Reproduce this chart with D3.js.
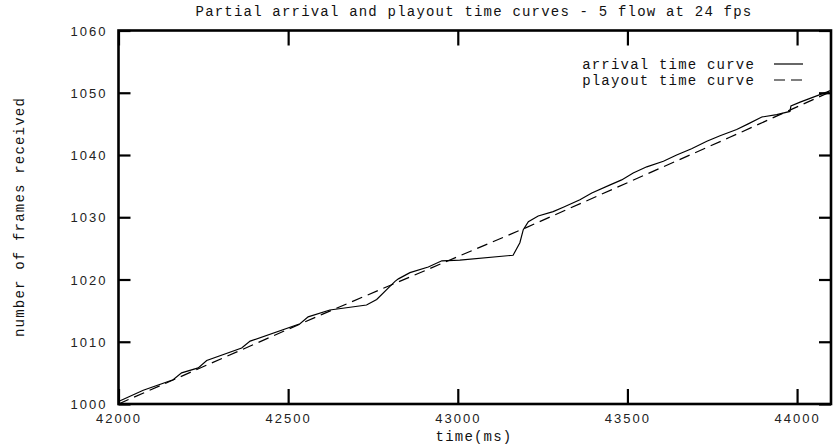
<!DOCTYPE html>
<html>
<head>
<meta charset="utf-8">
<script src="https://cdn.jsdelivr.net/npm/d3@7"></script>
<style>
  body { margin: 0; background: #fff; }
  .mono { font-family: "Liberation Mono", "DejaVu Sans Mono", monospace; font-size: 14px; letter-spacing: 1.2px; fill: #111; }
  .tick text { font-family: "Liberation Sans", Arial, sans-serif; font-size: 13px; letter-spacing: 2px; fill: #222; }
</style>
</head>
<body>
<div class="grafico"></div>
<script>
// curva de llegada (time ms, frames)
var arrivalTime = [42000, 42073, 42161, 42186, 42235, 42260, 42363, 42388, 42535, 42559, 42623, 42731, 42761, 42800, 42815, 42825, 42859, 42913, 42953, 43006, 43163, 43183, 43193, 43208, 43237, 43281, 43311, 43360, 43395, 43449, 43483, 43517, 43557, 43606, 43645, 43689, 43734, 43773, 43822, 43856, 43896, 43940, 43979, 43982, 44009, 44048, 44087, 44100];
var arrivalFrames = [1000.4, 1002.2, 1003.9, 1005.0, 1005.8, 1007.0, 1009.0, 1010.1, 1012.9, 1014.0, 1015.1, 1015.9, 1016.8, 1018.9, 1019.7, 1020.1, 1021.1, 1022.0, 1023.0, 1023.1, 1023.9, 1025.9, 1028.0, 1029.3, 1030.2, 1030.9, 1031.6, 1032.8, 1033.9, 1035.2, 1036.0, 1037.1, 1038.1, 1039.0, 1040.0, 1041.0, 1042.2, 1043.1, 1044.1, 1045.0, 1046.1, 1046.5, 1047.0, 1047.9, 1048.5, 1049.3, 1050.1, 1050.4];

// curva de reproduccion
var playoutTime = [42000, 42600, 43200, 43800, 44100];
var playoutFrames = [1000, 1014.4, 1028.3, 1042.8, 1050.2];

var xTicks = [42000, 42500, 43000, 43500, 44000];
var yTicks = [1000, 1010, 1020, 1030, 1040, 1050, 1060];

var titulo = "Partial arrival and playout time curves - 5 flow at 24 fps";
var xLabel = "time(ms)";
var yLabel = "number of frames received";
var leyenda = ["arrival time curve", "playout time curve"];

var W = 833, H = 447;
var margin = { top: 30.5, right: 2, bottom: 43, left: 118.5 };
var width = W - margin.left - margin.right;
var height = H - margin.top - margin.bottom;

var xScale = d3.scaleLinear().domain([42000, 44100]).range([0, width]);
var yScale = d3.scaleLinear().domain([1000, 1060]).range([height, 0]);

var root = d3.select(".grafico").append("svg")
  .attr("width", W).attr("height", H);

var svg = root.append("g")
  .attr("transform", "translate(" + margin.left + "," + margin.top + ")");

svg.append("clipPath").attr("id", "clip")
  .append("rect").attr("width", width).attr("height", height);

// ejes con ticks hacia adentro
var gx = svg.append("g").attr("transform", "translate(0," + height + ")")
  .call(d3.axisBottom(xScale).tickValues(xTicks).tickSizeInner(-15).tickSizeOuter(0).tickPadding(10).tickFormat(d3.format("d")));
var gy = svg.append("g")
  .call(d3.axisLeft(yScale).tickValues(yTicks).tickSizeInner(-12).tickSizeOuter(0).tickPadding(11).tickFormat(d3.format("d")));
svg.append("g").call(d3.axisTop(xScale).tickValues(xTicks).tickSizeInner(-15).tickSizeOuter(0).tickFormat(""));
svg.append("g").attr("transform", "translate(" + width + ",0)")
  .call(d3.axisRight(yScale).tickValues(yTicks).tickSizeInner(-12).tickSizeOuter(0).tickFormat(""));

svg.selectAll(".domain").remove();
svg.selectAll(".tick line").attr("stroke", "#000").attr("stroke-width", 2.2);
gy.selectAll(".tick text").attr("dy", "0.35em");

svg.append("rect")
  .attr("width", width).attr("height", height)
  .attr("fill", "none").attr("stroke", "#000").attr("stroke-width", 2.6);

var line = d3.line()
  .x(function(d) { return xScale(d[0]); })
  .y(function(d) { return yScale(d[1]); });

var dataArrival = arrivalTime.map(function(t, i) { return [t, arrivalFrames[i]]; });
var dataPlayout = playoutTime.map(function(t, i) { return [t, playoutFrames[i]]; });

svg.append("path").datum(dataArrival)
  .attr("clip-path", "url(#clip)")
  .attr("fill", "none").attr("stroke", "#000").attr("stroke-width", 1.2)
  .attr("d", line);

svg.append("path").datum(dataPlayout)
  .attr("clip-path", "url(#clip)")
  .attr("fill", "none").attr("stroke", "#000").attr("stroke-width", 1.2)
  .attr("stroke-dasharray", "11,6")
  .attr("d", line);

// leyenda
leyenda.forEach(function(txt, i) {
  var y = 64 + i * 16 - margin.top;
  svg.append("text").attr("class", "mono")
    .attr("x", 755 - margin.left).attr("y", y).attr("dy", "0.35em")
    .attr("text-anchor", "end").text(txt);
  svg.append("line")
    .attr("x1", 774 - margin.left).attr("x2", 803 - margin.left)
    .attr("y1", y).attr("y2", y)
    .attr("stroke", "#000").attr("stroke-width", 1.2)
    .attr("stroke-dasharray", i === 0 ? null : "11,6");
});

// textos
root.append("text").attr("class", "mono")
  .attr("x", 474).attr("y", 16).attr("text-anchor", "middle").text(titulo);
root.append("text").attr("class", "mono")
  .attr("x", 474).attr("y", 441).attr("text-anchor", "middle").text(xLabel);
root.append("text").attr("class", "mono")
  .attr("transform", "translate(24,217) rotate(-90)")
  .attr("text-anchor", "middle").text(yLabel);
</script>
</body>
</html>
